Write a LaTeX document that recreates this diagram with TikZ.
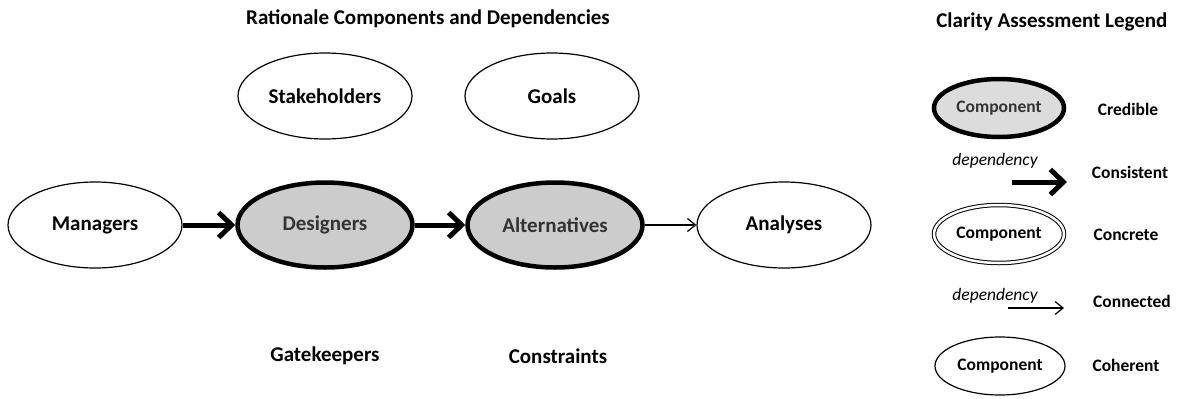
\documentclass[tikz,border=0pt]{standalone}
\usepackage{fontspec}
\setmainfont{Carlito}
\usetikzlibrary{shapes.geometric}
\usetikzlibrary{arrows.meta}
\definecolor{compfill}{HTML}{CCCCCC}
\definecolor{legendfill}{HTML}{DCDCDC}
\definecolor{compgray}{HTML}{333333}

\tikzset{
  comp/.style={ellipse, draw=black, line width=1.2pt, inner sep=0pt,
    minimum width=174pt, minimum height=86pt,
    font=\bfseries\fontsize{21}{25}\selectfont},
  credible/.style={comp, fill=compfill, line width=4.5pt, text=compgray,
    minimum width=175pt, minimum height=85pt},
  plain/.style={font=\bfseries\fontsize{21}{25}\selectfont},
  legcomp/.style={comp, minimum width=130pt, minimum height=58pt,
    font=\bfseries\fontsize{17.5}{21}\selectfont},
  legtext/.style={font=\bfseries\fontsize{17.5}{21}\selectfont},
  depname/.style={font=\itshape\fontsize{17.5}{21}\selectfont},
  consistent/.style={line width=5pt, -{Straight Barb[length=13pt,width=25pt]}},
  connected/.style={line width=1.2pt, -{Straight Barb[length=8pt,width=13pt]}}
}

\begin{document}
\begin{tikzpicture}[x=1pt,y=-1pt]
\useasboundingbox (0,0) rectangle (1179,399);
%% titles
\node[plain] (title) at (428,19) {Rationale Components and Dependencies};
\node[plain, anchor=east] (legtitle) at (1171,22) {Clarity Assessment Legend};
%% rationale components
\node[comp] (stake) at (325,96) {Stakeholders};
\node[comp] (goals) at (552,96) {Goals};
\node[comp] (mgr) at (95,225) {Managers};
\node[credible] (des) at (325,225) {Designers};
\node[credible] (alt) at (555,225) {Alternatives};
\node[comp] (ana) at (784,225) {Analyses};
\node[plain] (gate) at (325,356) {Gatekeepers};
\node[plain] (cons) at (558,356) {Constraints};
%% dependencies
\draw[consistent] (mgr) -- (des);
\draw[consistent] (des) -- (alt);
\draw[connected] (alt) -- (ana);
%% legend
\node[legcomp, fill=legendfill, line width=4.5pt, text=compgray] (lcred) at (999,108) {Component};
\node[legtext] (tcred) at (1128,109) {Credible};
\node[depname] (dep1) at (995,161) {dependency};
\coordinate (s1) at (1012,182);
\coordinate (e1) at (1067,182);
\draw[consistent] (s1) -- (e1);
\node[legtext] (tcons) at (1130,172) {Consistent};
\node[legcomp, double, double distance=2.5pt, line width=1pt] (lconc) at (999,234) {Component};
\node[legtext] (tconc) at (1126,235) {Concrete};
\node[depname] (dep2) at (995,296) {dependency};
\coordinate (s2) at (1008,308);
\coordinate (e2) at (1064,308);
\draw[connected] (s2) -- (e2);
\node[legtext] (tconn) at (1132,301) {Connected};
\node[legcomp] (lcoh) at (1000,366) {Component};
\node[legtext] (tcoh) at (1126,365) {Coherent};
\end{tikzpicture}
\end{document}
